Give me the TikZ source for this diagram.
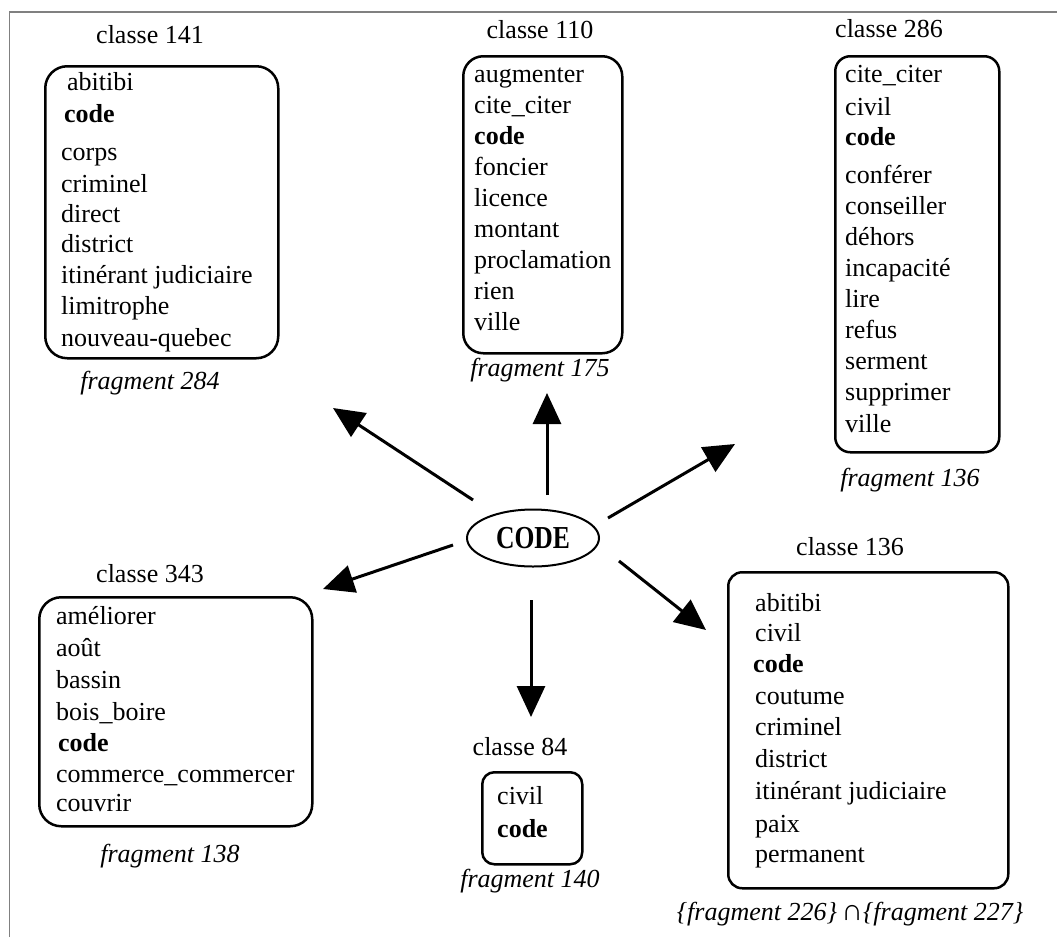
\documentclass[tikz,border=0pt]{standalone}
\usepackage{fontspec}
\usepackage{graphicx}
\setmainfont{Liberation Serif}
\usetikzlibrary{arrows.meta,shapes.geometric}
\tikzset{
  every node/.style={font=\fontsize{26}{31}\selectfont, inner sep=0pt},
  classbox/.style={draw, line width=2.5pt, anchor=north west},
  itm/.style={anchor=base west},
  ttl/.style={anchor=base},
  frag/.style={anchor=base, font=\fontsize{26}{31}\selectfont\itshape},
  arr/.style={line width=3pt, -{Triangle[length=31pt,width=28pt]}},
}
\begin{document}
\begin{tikzpicture}[x=1pt,y=-1pt]
\useasboundingbox (0,0) rectangle (1057,937);
\draw[color=black!50, line width=1.5pt] (9.5,937) -- (9.5,12) -- (1057,12);

% central node
\node[draw, ellipse, line width=2pt, minimum width=132pt, minimum height=57pt] (code) at (533,538) {\scalebox{0.8}[1]{\fontsize{32}{36}\selectfont\bfseries CODE}};

% ---- classe 141
\node[ttl] (t141) at (150,43) {classe 141};
\node[classbox, rounded corners=22pt, minimum width=233pt, minimum height=292pt] (b141) at (44,65) {};
\node[itm] (b141a) at (67,90) {abitibi};
\node[itm] (b141b) at (64,122) {\textbf{code}};
\node[itm] (b141c) at (61,160) {corps};
\node[itm] (b141d) at (61,192) {criminel};
\node[itm] (b141e) at (61,222) {direct};
\node[itm] (b141f) at (61,252) {district};
\node[itm] (b141g) at (61,283) {itinérant judiciaire};
\node[itm] (b141h) at (61,314) {limitrophe};
\node[itm] (b141i) at (61,346) {nouveau-quebec};
\node[frag] (f284) at (150,389) {fragment 284};

% ---- classe 110
\node[ttl] (t110) at (540,38) {classe 110};
\node[classbox, rounded corners=20pt, minimum width=159pt, minimum height=297pt] (b110) at (462,55) {};
\node[itm] (b110a) at (474,82) {augmenter};
\node[itm] (b110b) at (474,113) {cite\_citer};
\node[itm] (b110c) at (474,144) {\textbf{code}};
\node[itm] (b110d) at (474,175) {foncier};
\node[itm] (b110e) at (474,206) {licence};
\node[itm] (b110f) at (474,237) {montant};
\node[itm] (b110g) at (474,268) {proclamation};
\node[itm] (b110h) at (474,299) {rien};
\node[itm] (b110i) at (474,330) {ville};
\node[frag] (f175) at (540,376) {fragment 175};

% ---- classe 286
\node[ttl] (t286) at (889,37) {classe 286};
\node[classbox, rounded corners=15pt, minimum width=164pt, minimum height=396pt] (b286) at (834,55) {};
\node[itm] (b286a) at (845,82) {cite\_citer};
\node[itm] (b286b) at (845,115) {civil};
\node[itm] (b286c) at (845,145) {\textbf{code}};
\node[itm] (b286d) at (845,183) {conférer};
\node[itm] (b286e) at (845,214) {conseiller};
\node[itm] (b286f) at (845,245) {déhors};
\node[itm] (b286g) at (845,276) {incapacité};
\node[itm] (b286h) at (845,307) {lire};
\node[itm] (b286i) at (845,338) {refus};
\node[itm] (b286j) at (845,369) {serment};
\node[itm] (b286k) at (845,400) {supprimer};
\node[itm] (b286l) at (845,432) {ville};
\node[frag] (f136) at (910,486) {fragment 136};

% ---- classe 343
\node[ttl] (t343) at (150,582) {classe 343};
\node[classbox, rounded corners=22pt, minimum width=273pt, minimum height=229pt] (b343) at (38,596) {};
\node[itm] (b343a) at (56,624) {améliorer};
\node[itm] (b343b) at (56,656) {août};
\node[itm] (b343c) at (56,688) {bassin};
\node[itm] (b343d) at (56,720) {bois\_boire};
\node[itm] (b343e) at (58,751) {\textbf{code}};
\node[itm] (b343f) at (56,782) {commerce\_commercer};
\node[itm] (b343g) at (56,811) {couvrir};
\node[frag] (f138) at (170,862) {fragment 138};

% ---- classe 84
\node[ttl] (t84) at (520,755) {classe 84};
\node[classbox, rounded corners=12pt, minimum width=100pt, minimum height=92pt] (b84) at (481,771) {};
\node[itm] (b84a) at (497,804) {civil};
\node[itm] (b84b) at (497,837) {\textbf{code}};
\node[frag] (f140) at (530,887) {fragment 140};

% ---- classe 136
\node[ttl] (t136) at (850,555) {classe 136};
\node[classbox, rounded corners=14pt, minimum width=280pt, minimum height=316pt] (b136) at (727,571) {};
\node[itm] (b136a) at (755,611) {abitibi};
\node[itm] (b136b) at (755,641) {civil};
\node[itm] (b136c) at (753,672) {\textbf{code}};
\node[itm] (b136d) at (755,704) {coutume};
\node[itm] (b136e) at (755,735) {criminel};
\node[itm] (b136f) at (755,767) {district};
\node[itm] (b136g) at (755,799) {itinérant judiciaire};
\node[itm] (b136h) at (755,832) {paix};
\node[itm] (b136i) at (755,862) {permanent};
\node[frag] (f226) at (850,920) {\{fragment 226\}\,{\upshape\fontsize{30}{31}\selectfont ∩}\{fragment 227\}};

% ---- arrows
\coordinate (s1) at (473,500); \coordinate (e1) at (333,408);
\coordinate (s2) at (547,495); \coordinate (e2) at (547,393);
\coordinate (s3) at (608,518); \coordinate (e3) at (735,444);
\coordinate (s4) at (619,561); \coordinate (e4) at (706,630);
\coordinate (s5) at (531,600); \coordinate (e5) at (531,717);
\coordinate (s6) at (453,545); \coordinate (e6) at (323,589);
\draw[arr] (s1) -- (e1);
\draw[arr] (s2) -- (e2);
\draw[arr] (s3) -- (e3);
\draw[arr] (s4) -- (e4);
\draw[arr] (s5) -- (e5);
\draw[arr] (s6) -- (e6);
\end{tikzpicture}
\end{document}
